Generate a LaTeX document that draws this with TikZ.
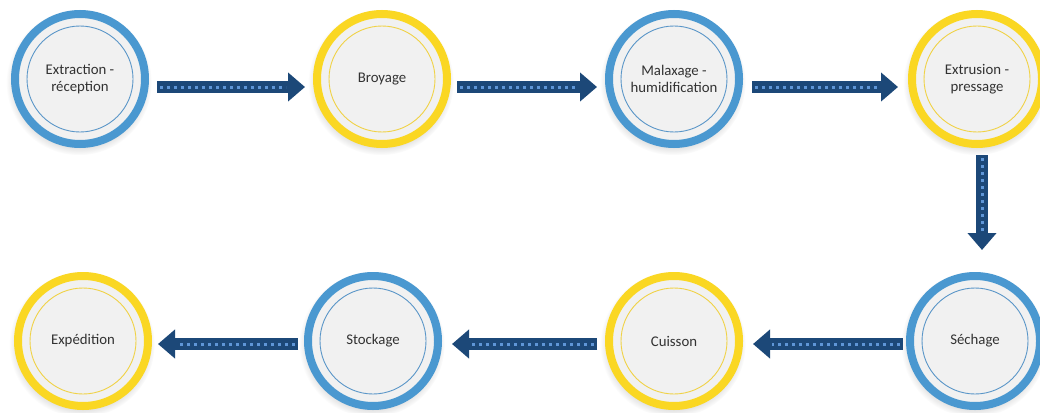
\documentclass[tikz,border=0pt]{standalone}
\usepackage{fontspec}
\setmainfont{Carlito}
\usetikzlibrary{arrows.meta,shadows}
\definecolor{ringblue}{RGB}{74,152,208}
\definecolor{ringyellow}{RGB}{250,215,35}
\definecolor{innerblue}{RGB}{90,150,200}
\definecolor{inneryellow}{RGB}{240,210,70}
\definecolor{fillgray}{RGB}{241,241,241}
\definecolor{navy}{RGB}{28,72,120}
\definecolor{dotblue}{RGB}{95,150,215}
\definecolor{txt}{RGB}{50,50,50}
\begin{document}
\begin{tikzpicture}[x=1pt,y=1pt,
  stage/.style={circle, minimum size=130pt, inner sep=0pt, line width=8pt,
    fill=fillgray, font=\fontsize{14.8}{17.5}\selectfont, text=txt, align=center,
    circular drop shadow={shadow xshift=-1pt, shadow yshift=-3pt, opacity=0.3, shadow scale=1.12}},
  bluestage/.style={stage, draw=ringblue,
    path picture={\draw[innerblue,line width=0.9pt] (path picture bounding box.center) circle (53pt);}},
  yellowstage/.style={stage, draw=ringyellow,
    path picture={\draw[inneryellow,line width=0.9pt] (path picture bounding box.center) circle (53pt);}},
  flowarrow/.style={draw=navy, line width=12pt, -{Triangle[length=17pt,width=28pt]}},
  flowdots/.style={draw=dotblue, line width=3pt, dash pattern=on 3pt off 4pt}
]
\clip (0,0) rectangle (1040,-412);
\fill[white] (0,0) rectangle (1040,-412);

\node[bluestage]   (c1) at (80,-79)  {Extraction -\\réception};
\node[yellowstage] (c2) at (382,-79) {Broyage};
\node[bluestage]   (c3) at (674,-79) {Malaxage -\\humidification};
\node[yellowstage] (c4) at (977,-79) {Extrusion -\\pressage};
\node[bluestage]   (c5) at (975,-341) {Séchage};
\node[yellowstage] (c6) at (674,-341) {Cuisson};
\node[bluestage]   (c7) at (373,-341) {Stockage};
\node[yellowstage] (c8) at (83,-341)  {Expédition};

% top row
\draw[flowarrow, shorten <=8pt, shorten >=8pt] ([yshift=-8pt]c1.east) -- ([yshift=-8pt]c2.west);
\draw[flowdots, shorten <=11pt, shorten >=27pt] ([yshift=-8pt]c1.east) -- ([yshift=-8pt]c2.west);
\draw[flowarrow, shorten <=6pt, shorten >=8pt] ([yshift=-8pt]c2.east) -- ([yshift=-8pt]c3.west);
\draw[flowdots, shorten <=9pt, shorten >=27pt] ([yshift=-8pt]c2.east) -- ([yshift=-8pt]c3.west);
\draw[flowarrow, shorten <=9pt, shorten >=10pt] ([yshift=-8pt]c3.east) -- ([yshift=-8pt]c4.west);
\draw[flowdots, shorten <=12pt, shorten >=29pt] ([yshift=-8pt]c3.east) -- ([yshift=-8pt]c4.west);
% down
\draw[flowarrow, shorten <=7pt, shorten >=22pt] ([xshift=5pt]c4.south) -- ([xshift=5pt]c4.south |- c5.north);
\draw[flowdots, shorten <=10pt, shorten >=41pt] ([xshift=5pt]c4.south) -- ([xshift=5pt]c4.south |- c5.north);
% bottom row
\draw[flowarrow, shorten <=3pt, shorten >=10pt] ([yshift=-3pt]c5.west) -- ([yshift=-3pt]c6.east);
\draw[flowdots, shorten <=6pt, shorten >=29pt] ([yshift=-3pt]c5.west) -- ([yshift=-3pt]c6.east);
\draw[flowarrow, shorten <=8pt, shorten >=10pt] ([yshift=-3pt]c6.west) -- ([yshift=-3pt]c7.east);
\draw[flowdots, shorten <=11pt, shorten >=29pt] ([yshift=-3pt]c6.west) -- ([yshift=-3pt]c7.east);
\draw[flowarrow, shorten <=6pt, shorten >=6pt] ([yshift=-3pt]c7.west) -- ([yshift=-3pt]c8.east);
\draw[flowdots, shorten <=9pt, shorten >=25pt] ([yshift=-3pt]c7.west) -- ([yshift=-3pt]c8.east);
\end{tikzpicture}
\end{document}
